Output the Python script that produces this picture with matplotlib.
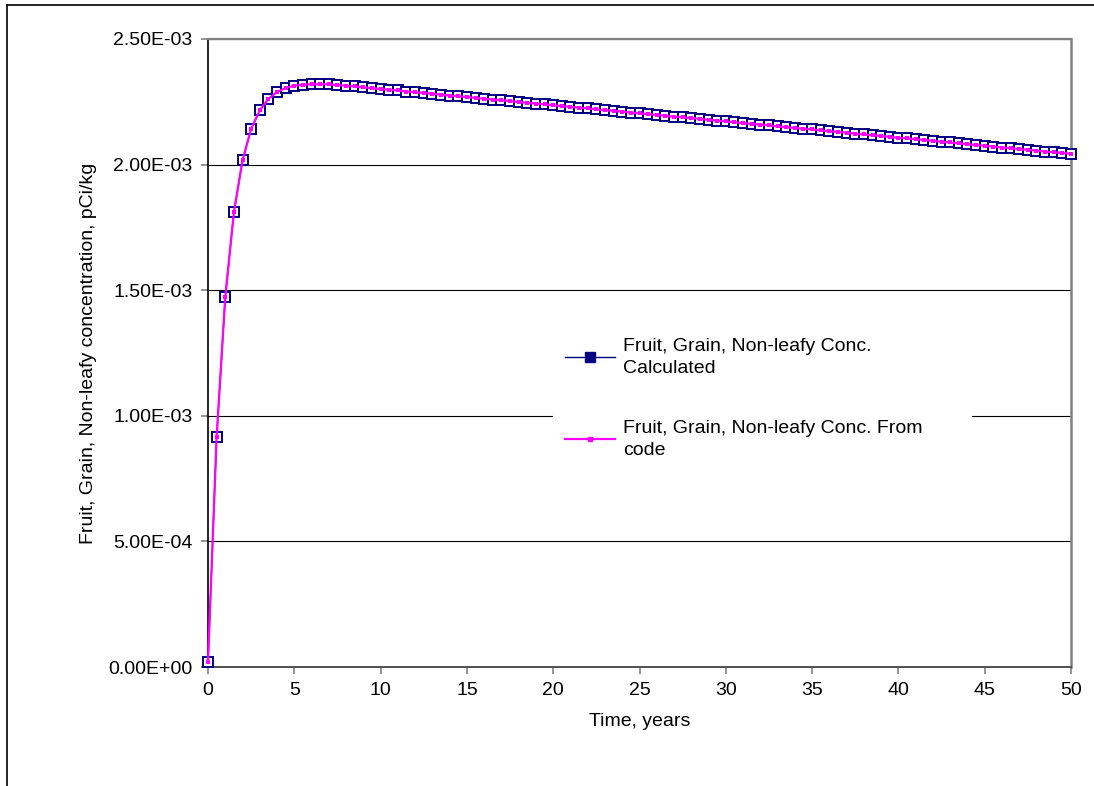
import numpy as np
import matplotlib.pyplot as plt
from matplotlib.lines import Line2D

plt.rcParams['font.family'] = ['Liberation Sans', 'DejaVu Sans']

# time grid, years (points every half year)
time_years = np.arange(0, 50.5, 0.5)

# concentration, in units of 1e-3 pCi/kg
conc_calc_e3 = [
    0.020, 0.915, 1.472, 1.810, 2.017, 2.142, 2.216, 2.262,
    2.289, 2.305, 2.314, 2.318, 2.320, 2.320, 2.319, 2.317,
    2.314, 2.311, 2.308, 2.304, 2.301, 2.298, 2.295, 2.291,
    2.288, 2.285, 2.282, 2.278, 2.275, 2.272, 2.269, 2.266,
    2.262, 2.259, 2.256, 2.253, 2.249, 2.246, 2.243, 2.240,
    2.236, 2.233, 2.230, 2.227, 2.224, 2.220, 2.217, 2.214,
    2.211, 2.207, 2.204, 2.201, 2.198, 2.194, 2.191, 2.188,
    2.185, 2.182, 2.178, 2.175, 2.172, 2.169, 2.165, 2.162,
    2.159, 2.156, 2.152, 2.149, 2.146, 2.143, 2.140, 2.136,
    2.133, 2.130, 2.127, 2.123, 2.120, 2.117, 2.114, 2.110,
    2.107, 2.104, 2.101, 2.098, 2.094, 2.091, 2.088, 2.085,
    2.081, 2.078, 2.075, 2.072, 2.068, 2.065, 2.062, 2.059,
    2.056, 2.052, 2.049, 2.046, 2.043,
]
# the code output overlays the calculated values
conc_code_e3 = list(conc_calc_e3)

conc_calc = np.array(conc_calc_e3) * 1e-3
conc_code = np.array(conc_code_e3) * 1e-3

y_ticks = [0, 5e-4, 1e-3, 1.5e-3, 2e-3, 2.5e-3]
y_tick_labels = ['0.00E+00', '5.00E-04', '1.00E-03', '1.50E-03', '2.00E-03', '2.50E-03']
x_ticks = list(range(0, 55, 5))

label_calc = 'Fruit, Grain, Non-leafy Conc.\nCalculated'
label_code = 'Fruit, Grain, Non-leafy Conc. From\ncode'

NAVY = '#000080'
MAGENTA = '#FF00FF'

fig = plt.figure(figsize=(10.94, 7.86), dpi=100)
ax = fig.add_axes([208 / 1094, 1 - 667 / 786, 863 / 1094, 628 / 786])

ax.plot(time_years, conc_calc, color=NAVY, lw=1.0, marker='s', ms=7.8,
        mfc='white', mec=NAVY, mew=1.4, clip_on=False, zorder=3)
ax.plot(time_years, conc_code, color=MAGENTA, lw=1.6, marker='s', ms=3.0,
        mfc=MAGENTA, mec=MAGENTA, mew=0, clip_on=False, zorder=4)

ax.set_xlim(0, 50)
ax.set_ylim(0, 2.5e-3)
ax.set_xticks(x_ticks)
ax.set_yticks(y_ticks)
ax.set_yticklabels(y_tick_labels)
ax.tick_params(axis='both', labelsize=14, direction='out', length=5,
               color='#808080', width=1.2, pad=6)

ax.grid(axis='y', color='black', lw=0.8)
ax.set_axisbelow(True)

ax.spines['left'].set_color('black')
ax.spines['left'].set_linewidth(1.2)
ax.spines['bottom'].set_color('#505050')
ax.spines['bottom'].set_linewidth(1.4)
ax.spines['right'].set_color('#808080')
ax.spines['right'].set_linewidth(1.8)
ax.spines['top'].set_color('#808080')
ax.spines['top'].set_linewidth(1.6)

ax.set_xlabel('Time, years', fontsize=14, labelpad=10)
ax.set_ylabel('Fruit, Grain, Non-leafy concentration, pCi/kg', fontsize=14, labelpad=8)

handles = [
    Line2D([], [], color=NAVY, lw=1.0, marker='s', ms=6.5, mfc=NAVY, mec=NAVY),
    Line2D([], [], color=MAGENTA, lw=1.6, marker='s', ms=2.5, mfc=MAGENTA, mec=MAGENTA),
]
leg_top = 1 - 326 / 786
leg = fig.legend(handles, [label_calc, label_code], loc='upper left',
                 bbox_to_anchor=(553 / 1094, leg_top - 0.3, 419 / 1094, 0.3),
                 mode='expand', borderaxespad=0,
                 fontsize=14, frameon=True, fancybox=False, framealpha=1,
                 facecolor='white', edgecolor='none', handlelength=2.6,
                 handletextpad=0.4, labelspacing=2.2, borderpad=0.6)
for t in leg.get_texts():
    t.set_linespacing(1.4)

# outer chart frame (left and top edges are visible)
fig.add_artist(Line2D([7 / 1094, 7 / 1094], [0, 1 - 5 / 786], color='black', lw=1.2))
fig.add_artist(Line2D([7 / 1094, 1], [1 - 5 / 786, 1 - 5 / 786], color='black', lw=1.2))

fig.savefig('out.png', dpi=100)
